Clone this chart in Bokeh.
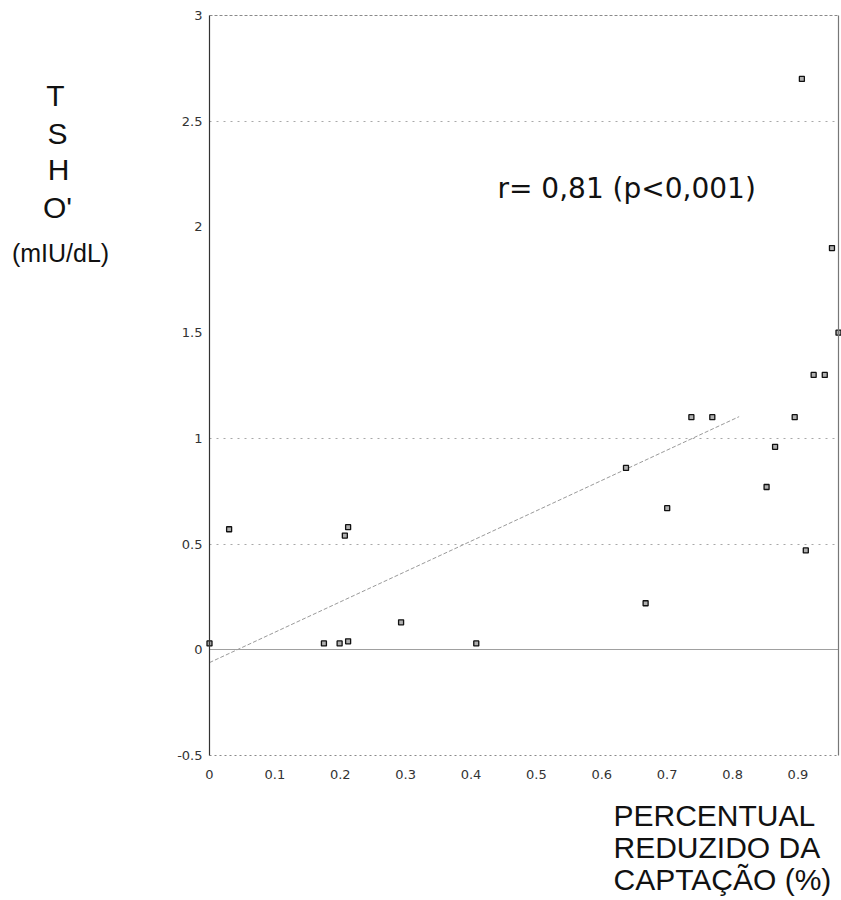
import numpy as np
from bokeh.plotting import figure
from bokeh.models import Range1d, FixedTicker, Label, LinearAxis
from bokeh.embed import file_html
from bokeh.resources import INLINE

# ---- data ----
captacao_reduzida = [0.0, 0.03, 0.175, 0.199, 0.212, 0.207, 0.212, 0.293, 0.408,
                     0.637, 0.667, 0.700, 0.737, 0.769, 0.852, 0.865, 0.895,
                     0.906, 0.912, 0.924, 0.941, 0.952, 0.962]
tsh_0 = [0.03, 0.57, 0.03, 0.03, 0.04, 0.54, 0.58, 0.13, 0.03,
         0.86, 0.22, 0.67, 1.10, 1.10, 0.77, 0.96, 1.10,
         2.70, 0.47, 1.30, 1.30, 1.90, 1.50]

x_ticks = [0, 0.1, 0.2, 0.3, 0.4, 0.5, 0.6, 0.7, 0.8, 0.9]
x_tick_labels = ["0", "0.1", "0.2", "0.3", "0.4", "0.5", "0.6", "0.7", "0.8", "0.9"]
y_ticks = [-0.5, 0, 0.5, 1, 1.5, 2, 2.5, 3]
y_tick_labels = ["-0.5", "0", "0.5", "1", "1.5", "2", "2.5", "3"]
grid_levels = [0.5, 1, 2.5]     # dotted guide lines visible in the reference
fit_x_extent = [0.0, 0.81]
annotation = "r=  0,81  (p<0,001)"
y_title_letters = ["T", "S", "H", "O'"]
y_title_unit = "(mIU/dL)"
x_title_lines = ["PERCENTUAL", "REDUZIDO DA", "CAPTAÇÃO (%)"]

# ---- layout ----
X0, X1 = 0.0, 0.962          # axis extent
Y0, Y1 = -0.5, 3.0
FL, FR, FT, FB = 209, 838, 15, 755   # where the axis box sits (pixels)
W, H = 841, 900

def dx(px):
    return X0 + (px - FL) * (X1 - X0) / (FR - FL)

def dy(py):
    return Y1 - (py - FT) * (Y1 - Y0) / (FB - FT)

p = figure(width=W, height=H, x_range=Range1d(dx(0), dx(W)), y_range=Range1d(dy(H), dy(0)),
           output_backend="svg", toolbar_location=None, min_border=0)
p.outline_line_color = None
p.background_fill_color = "white"
p.border_fill_color = "white"
p.xgrid.visible = False
p.ygrid.visible = False


def line_axis(loc, bounds, place, color, width=1.0, dash="solid"):
    ax = LinearAxis(fixed_location=loc, bounds=bounds, ticker=FixedTicker(ticks=[]),
                    axis_line_color=color, axis_line_width=width, axis_line_dash=dash,
                    major_tick_line_color=None, minor_tick_line_color=None,
                    major_label_text_font_size="0px")
    p.add_layout(ax, place)
    return ax


# horizontal guide lines and zero line, limited to the axis box
for lv in grid_levels:
    line_axis(lv, (X0, X1), "below", "#a8a8a8", 1, "2 5")
line_axis(0, (X0, X1), "below", "#a0a0a0", 1)

xa = p.xaxis[0]
ya = p.yaxis[0]
xa.fixed_location = Y0
xa.bounds = (X0, X1)
ya.fixed_location = X0
ya.bounds = (Y0, Y1)

for ax, ticks, labels, standoff in ((xa, x_ticks, x_tick_labels, 14),
                                    (ya, y_ticks, y_tick_labels, 7)):
    ax.ticker = FixedTicker(ticks=ticks)
    ax.major_label_overrides = {t: l for t, l in zip(ticks, labels)}
    ax.major_tick_line_color = None
    ax.minor_tick_line_color = None
    ax.major_tick_out = 0
    ax.major_tick_in = 0
    ax.major_label_text_font = "DejaVu Sans"
    ax.major_label_text_font_size = "13px"
    ax.major_label_text_color = "#333333"
    ax.major_label_standoff = standoff

ya.axis_line_color = "#333333"
ya.axis_line_width = 1.2
xa.axis_line_color = "#8a8a8a"
xa.axis_line_dash = "2 3"

# right and top borders of the box
line_axis(X1, (Y0, Y1), "right", "#777777", 1.2)
line_axis(Y1, (X0, X1), "above", "#8a8a8a", 1, "3 2")

# regression line from the data
coef = np.polyfit(np.array(captacao_reduzida), np.array(tsh_0), 1)
fy = [float(np.polyval(coef, v)) for v in fit_x_extent]
p.line(fit_x_extent, fy, line_color="#9a9a9a", line_width=1, line_dash="4 2")

p.scatter(captacao_reduzida, tsh_0, marker="square", size=5,
          fill_color="#b0b0b0", line_color="#111111", line_width=1.3)

# annotation
p.add_layout(Label(x=dx(497), y=dy(187.5), text=annotation,
                   text_font="DejaVu Sans", text_font_size="28px",
                   text_color="#111111", text_align="left", text_baseline="middle"))

# y title (stacked letters)
y_pos = [(55, 94.5), (57, 133), (58, 169), (57, 207)]
for letter, (px, py) in zip(y_title_letters, y_pos):
    p.add_layout(Label(x=dx(px), y=dy(py), text=letter,
                       text_font="Liberation Sans", text_font_size="30px",
                       text_color="#111111", text_align="center", text_baseline="middle"))
p.add_layout(Label(x=dx(60), y=dy(252.5), text=y_title_unit,
                   text_font="Liberation Sans", text_font_size="25px",
                   text_color="#111111", text_align="center", text_baseline="middle"))

# x title
for line, py in zip(x_title_lines, [815, 847, 879]):
    p.add_layout(Label(x=dx(613), y=dy(py), text=line,
                       text_font="Liberation Sans", text_font_size="30px",
                       text_color="#111111", text_align="left", text_baseline="middle"))

open("out.html", "w").write(file_html(p, INLINE))
